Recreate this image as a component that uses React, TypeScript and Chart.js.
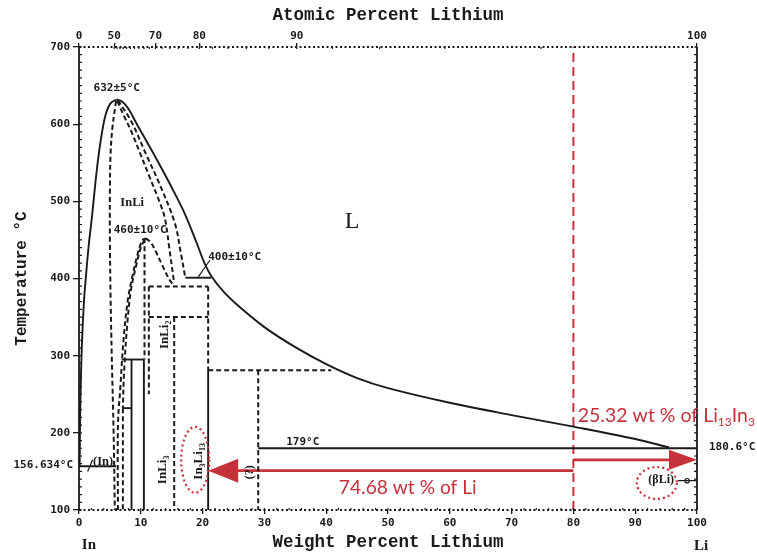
import React, { useEffect, useRef } from "react";
import { Chart, registerables } from "chart.js";
Chart.register(...registerables);

type Pt = [number, number];

// ---------- axes ----------
const tempTicks = [100, 200, 300, 400, 500, 600, 700];
const weightTicks = [0, 10, 20, 30, 40, 50, 60, 70, 80, 90, 100];
const atomicTicks = [0, 50, 70, 80, 90, 100];
const LI_MASS = 6.941;
const IN_MASS = 114.818;
const atomicToWeight = (a: number) =>
  a >= 100 ? 100 : ((a * LI_MASS) / (a * LI_MASS + (100 - a) * IN_MASS)) * 100;

// ---------- phase boundaries [wt% Li, °C] ----------
const liquidusLeft: Pt[] = [
  [0.1, 156.6], [0.2, 230], [0.45, 310], [0.8, 370], [1.2, 410], [1.6, 445],
  [2.1, 480], [2.6, 520], [3.1, 555], [3.7, 588], [4.3, 612], [5.1, 627], [6.1, 632],
];
const liquidusRight: Pt[] = [
  [6.1, 632], [7.0, 629], [8.0, 620], [9.5, 598], [11, 577], [13, 548], [15, 518],
  [17, 486], [19, 447], [20.3, 420], [21.5, 402], [23.5, 382], [26, 363], [30, 337],
  [35, 311], [40, 289], [45, 271], [50, 258], [60, 239], [70, 223], [80, 208],
  [90, 192], [95.5, 181],
];
const inEutectic: Pt[] = [[0, 156.6], [6.0, 156.6]];
const liEutectic: Pt[] = [[29, 180], [100, 180]];
const peritectic400: Pt[] = [[17.2, 401], [21.4, 401]];
const leader400: Pt[] = [[19.3, 402], [21.2, 424]];
const inLiLeft: Pt[] = [
  [6.0, 630], [5.4, 595], [5.1, 560], [5.0, 510], [5.0, 450], [5.1, 380],
  [5.3, 300], [5.6, 200], [5.8, 100],
];
const inLiRight: Pt[] = [
  [6.2, 630], [7.2, 612], [8.5, 590], [9.9, 562], [11.5, 530], [13, 500],
  [13.9, 478], [14.6, 440], [15.4, 394],
];
const inLiSolidus: Pt[] = [
  [6.3, 631], [8.5, 603], [10.9, 560], [13, 523], [15.5, 472], [16.5, 432], [17.2, 401],
];
const domeLeft: Pt[] = [
  [6.3, 100], [6.3, 210], [6.7, 260], [7.2, 320], [7.9, 372], [8.7, 405],
  [9.6, 435], [10.3, 450], [10.8, 452],
];
const domeInner: Pt[] = [
  [10.6, 450], [10.0, 440], [9.2, 415], [8.4, 385], [7.8, 340], [7.3, 280], [7.1, 232],
];
const domeRight: Pt[] = [
  [10.8, 452], [11.6, 447], [12.6, 432], [13.6, 415], [14.6, 399], [15.4, 390],
];
const inLi2Upper: Pt[] = [[10.6, 452], [10.6, 295]];
const inLi2Lower: Pt[] = [[10.5, 295], [10.5, 100]];
const in2Li3Top: Pt[] = [[6.9, 295], [10.5, 295]];
const in2Li3: Pt[] = [[8.5, 295], [8.5, 100]];
const in4Li5Top: Pt[] = [[7.1, 232], [8.5, 232]];
const in4Li5: Pt[] = [[7.1, 232], [7.1, 100]];
const inLi2Right: Pt[] = [[11.3, 389.5], [11.3, 250]];
const tie389: Pt[] = [[11.3, 389.5], [20.9, 389.5]];
const tie350: Pt[] = [[11.3, 350], [20.9, 350]];
const inLi3: Pt[] = [[15.4, 350], [15.4, 100]];
const in3Li13Upper: Pt[] = [[20.9, 389.5], [20.9, 281]];
const in3Li13Lower: Pt[] = [[20.9, 281], [20.9, 100]];
const tie281: Pt[] = [[20.9, 281], [40.8, 281]];
const unknownPhase: Pt[] = [[29, 281], [29, 100]];

// ---------- red annotation ----------
const splitLine: Pt[] = [[80, 100], [80, 700]];
const liArrow: Pt[] = [[80, 151], [22, 151]];
const li13In3Arrow: Pt[] = [[80, 165], [97, 165]];

const INK = "#1a1a1a";
const RED = "#c5323a";
const MONO = "'DejaVu Sans Mono', monospace";
const SERIF = "'Liberation Serif', serif";
const TITLE = "'Liberation Mono', monospace";

type Part = { t: string; sub?: boolean };

function drawParts(
  ctx: CanvasRenderingContext2D, parts: Part[], x: number, y: number,
  size: number, family: string, weight: string, align: "left" | "center" | "right"
) {
  const main = `${weight} ${size}px ${family}`;
  const sub = `${weight} ${Math.round(size * 0.62)}px ${family}`;
  let total = 0;
  const widths = parts.map((p) => {
    ctx.font = p.sub ? sub : main;
    const w = ctx.measureText(p.t).width;
    total += w;
    return w;
  });
  let cx = align === "center" ? x - total / 2 : align === "right" ? x - total : x;
  ctx.textAlign = "left";
  ctx.textBaseline = "middle";
  parts.forEach((p, i) => {
    ctx.font = p.sub ? sub : main;
    ctx.fillText(p.t, cx, p.sub ? y + size * 0.32 : y);
    cx += widths[i];
  });
}

const annotPlugin = {
  id: "phaseAnnot",
  afterDraw(chart: any) {
    const { ctx, chartArea: ca, scales } = chart;
    const xs = scales.x;
    const ys = scales.y;
    const px = (v: number) => xs.getPixelForValue(v);
    const py = (v: number) => ys.getPixelForValue(v);
    ctx.save();

    // frame
    ctx.strokeStyle = INK;
    ctx.lineWidth = 1.8;
    ctx.setLineDash([]);
    ctx.beginPath();
    ctx.moveTo(ca.left, ca.top); ctx.lineTo(ca.left, ca.bottom);
    ctx.moveTo(ca.right, ca.top); ctx.lineTo(ca.right, ca.bottom);
    ctx.stroke();
    ctx.setLineDash([2, 2.5]);
    ctx.beginPath();
    ctx.moveTo(ca.left, ca.top); ctx.lineTo(ca.right, ca.top);
    ctx.moveTo(ca.left, ca.bottom); ctx.lineTo(ca.right, ca.bottom);
    ctx.stroke();
    ctx.setLineDash([]);
    // minor ticks
    ctx.lineWidth = 1.2;
    ctx.beginPath();
    for (let t = 100; t <= 700; t += 10) {
      const y = py(t);
      ctx.moveTo(ca.left, y); ctx.lineTo(ca.left + 3, y);
      ctx.moveTo(ca.right - 3, y); ctx.lineTo(ca.right, y);
    }
    for (let w = 0; w <= 100; w += 2) {
      const x = px(w);
      ctx.moveTo(x, ca.bottom); ctx.lineTo(x, ca.bottom - 2);
    }
    for (let a = 50; a <= 100; a += 2) {
      const x = px(atomicToWeight(a));
      ctx.moveTo(x, ca.top); ctx.lineTo(x, ca.top + 2);
    }
    ctx.stroke();

    // black labels
    ctx.fillStyle = INK;
    const mono = (t: string, v: Pt, align: "left" | "center" | "right" = "center") =>
      drawParts(ctx, [{ t }], px(v[0]), py(v[1]), 11, MONO, "bold", align);
    mono("632±5°C", [6.1, 647]);
    mono("460±10°C", [9.9, 463]);
    mono("400±10°C", [25.2, 428]);
    mono("179°C", [36.2, 188]);
    drawParts(ctx, [{ t: "InLi" }], px(8.6), py(498), 12.5, SERIF, "bold", "center");
    drawParts(ctx, [{ t: "(In)" }], px(3.9), py(163), 12.5, SERIF, "bold", "center");
    drawParts(ctx, [{ t: "(βLi)" }], px(94.2), py(139), 12, SERIF, "bold", "center");
    drawParts(ctx, [{ t: "L" }], px(44.2), py(473), 24, SERIF, "normal", "center");

    // leaders
    ctx.lineWidth = 1.2;
    ctx.beginPath();
    ctx.moveTo(px(1.4), py(150)); ctx.lineTo(px(2.2), py(165));
    ctx.moveTo(px(96.9), py(138)); ctx.lineTo(px(100), py(138));
    ctx.stroke();
    ctx.beginPath();
    ctx.arc(px(98.4), py(138), 2.2, 0, Math.PI * 2);
    ctx.stroke();

    const rot = (parts: Part[], v: Pt, size: number) => {
      ctx.save();
      ctx.translate(px(v[0]), py(v[1]));
      ctx.rotate(-Math.PI / 2);
      drawParts(ctx, parts, 0, 0, size, SERIF, "bold", "center");
      ctx.restore();
    };
    rot([{ t: "InLi" }, { t: "2", sub: true }], [13.8, 327], 13);
    rot([{ t: "InLi" }, { t: "3", sub: true }], [13.6, 152], 13);
    rot([{ t: "In" }, { t: "3", sub: true }, { t: "Li" }, { t: "13", sub: true }], [19.4, 163], 13);
    rot([{ t: "(?)" }], [27.7, 149], 12);

    // outside labels
    drawParts(ctx, [{ t: "156.634°C" }], ca.left - 6, py(157.5), 11, MONO, "bold", "right");
    drawParts(ctx, [{ t: "180.6°C" }], ca.right + 12, py(181), 11, MONO, "bold", "left");
    drawParts(ctx, [{ t: "In" }], px(1.6), ca.bottom + 35, 15, SERIF, "bold", "center");
    drawParts(ctx, [{ t: "Li" }], px(100) + 4, ca.bottom + 36, 15, SERIF, "bold", "center");

    // red annotations
    ctx.fillStyle = RED;
    ctx.strokeStyle = RED;
    ctx.lineWidth = 2.2;
    ctx.setLineDash([2, 3]);
    ctx.beginPath();
    ctx.ellipse(px(18.8), py(165), 14, 33, 0, 0, Math.PI * 2);
    ctx.stroke();
    ctx.beginPath();
    ctx.ellipse(px(93.5), py(135), 20, 16, 0, 0, Math.PI * 2);
    ctx.stroke();
    ctx.setLineDash([]);
    // arrow heads
    const lx = px(20.9), ly = py(151);
    ctx.beginPath();
    ctx.moveTo(lx, ly); ctx.lineTo(lx + 30, ly - 12); ctx.lineTo(lx + 30, ly + 12);
    ctx.closePath(); ctx.fill();
    const rx = px(100), ry = py(165);
    ctx.beginPath();
    ctx.moveTo(rx, ry); ctx.lineTo(rx - 28, ry - 10); ctx.lineTo(rx - 28, ry + 10);
    ctx.closePath(); ctx.fill();

    drawParts(ctx, [{ t: "74.68 wt % of Li" }], px(53.2), py(128.5), 19.2, "Lato, sans-serif", "normal", "center");
    drawParts(
      ctx,
      [{ t: "25.32 wt % of Li" }, { t: "13", sub: true }, { t: "In" }, { t: "3", sub: true }],
      px(80.7), py(221.8), 19.5, "Lato, sans-serif", "normal", "left"
    );
    ctx.restore();
  },
};

const App = () => {
  const ref = useRef<HTMLCanvasElement>(null);
  useEffect(() => {
    const canvas = ref.current;
    if (!canvas) return;
    const mk = (pts: Pt[], opts: any = {}) => ({
      data: pts.map(([x, y]) => ({ x, y })),
      showLine: true,
      pointRadius: 0,
      borderColor: INK,
      borderWidth: 1.9,
      tension: 0,
      fill: false,
      ...opts,
    });
    const dash = { borderDash: [5, 3], borderWidth: 2 };
    const curve = { tension: 0.35 };
    const datasets: any[] = [
      mk(liquidusLeft, curve),
      mk(liquidusRight, curve),
      mk(inEutectic),
      mk(liEutectic),
      mk(peritectic400),
      mk(leader400, { borderWidth: 1.2 }),
      mk(inLiLeft, { ...dash, ...curve }),
      mk(inLiRight, { ...dash, ...curve }),
      mk(inLiSolidus, { ...dash, ...curve }),
      mk(domeLeft, { ...dash, ...curve }),
      mk(domeInner, { ...dash, ...curve }),
      mk(domeRight, { ...dash, ...curve }),
      mk(inLi2Upper, dash),
      mk(inLi2Lower),
      mk(in2Li3Top),
      mk(in2Li3),
      mk(in4Li5Top),
      mk(in4Li5, dash),
      mk(inLi2Right, dash),
      mk(tie389, dash),
      mk(tie350, dash),
      mk(inLi3, dash),
      mk(in3Li13Upper, dash),
      mk(in3Li13Lower),
      mk(tie281, dash),
      mk(unknownPhase, dash),
      mk(splitLine, { borderColor: RED, borderWidth: 2, borderDash: [9, 5] }),
      mk(liArrow, { borderColor: RED, borderWidth: 2.6 }),
      mk(li13In3Arrow, { borderColor: RED, borderWidth: 2.6 }),
      { data: [], xAxisID: "x2", showLine: false, pointRadius: 0 },
    ];
    const tickFont = { family: MONO, size: 11, weight: "bold" as const };
    const titleFont = { family: TITLE, size: 17.5, weight: "bold" as const };
    const chart = new Chart(canvas, {
      type: "scatter",
      data: { datasets },
      options: {
        animation: false,
        responsive: false,
        events: [],
        layout: { padding: { left: 0, right: 60, top: 0, bottom: 0 } },
        plugins: { legend: { display: false }, tooltip: { enabled: false } },
        scales: {
          x: {
            type: "linear",
            position: "bottom",
            min: 0,
            max: 100,
            afterBuildTicks: (s: any) => { s.ticks = weightTicks.map((v) => ({ value: v })); },
            afterFit: (s: any) => { s.height = 47; },
            ticks: { font: tickFont, color: INK, padding: 3, maxRotation: 0, autoSkip: false },
            grid: { display: true, drawOnChartArea: false, tickLength: 4, color: INK, lineWidth: 1.3 },
            border: { display: false },
            title: { display: true, text: "Weight Percent Lithium", font: titleFont, color: INK, padding: { top: 0, bottom: 4 } },
          },
          x2: {
            type: "linear",
            position: "top",
            min: 0,
            max: 100,
            afterBuildTicks: (s: any) => { s.ticks = atomicTicks.map((a) => ({ value: atomicToWeight(a) })); },
            afterFit: (s: any) => { s.height = 47; },
            ticks: {
              font: tickFont, color: INK, padding: 0, maxRotation: 0, autoSkip: false,
              callback: (_v: any, i: number) => String(atomicTicks[i]),
            },
            grid: { display: true, drawOnChartArea: false, tickLength: 4, color: INK, lineWidth: 1.3 },
            border: { display: false },
            title: { display: true, text: "Atomic Percent Lithium", font: titleFont, color: INK, padding: { top: 5, bottom: 0 } },
          },
          y: {
            type: "linear",
            min: 100,
            max: 700,
            afterBuildTicks: (s: any) => { s.ticks = tempTicks.map((v) => ({ value: v })); },
            afterFit: (s: any) => { s.width = 79; },
            ticks: { font: tickFont, color: INK, padding: 3 },
            grid: { display: true, drawOnChartArea: false, tickLength: 6, color: INK, lineWidth: 1.3 },
            border: { display: false },
            title: { display: true, text: "Temperature °C", font: { family: TITLE, size: 16, weight: "bold" }, color: INK, padding: { top: 12, bottom: 0 } },
          },
        },
      } as any,
      plugins: [annotPlugin],
    });
    return () => chart.destroy();
  }, []);
  return (
    <div style={{ position: "fixed", left: 0, top: 0, width: 757, height: 557, background: "#fff" }}>
      <canvas ref={ref} width={757} height={557} style={{ display: "block" }} />
    </div>
  );
};

export default App;
